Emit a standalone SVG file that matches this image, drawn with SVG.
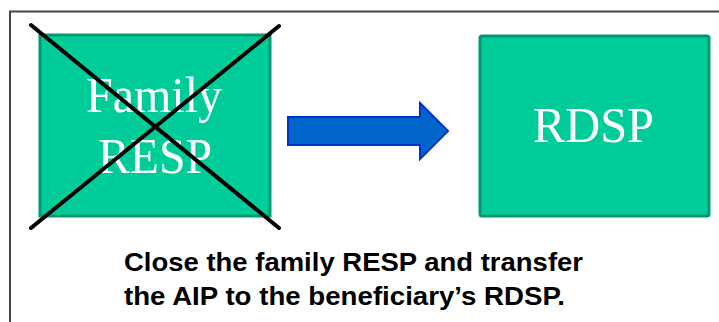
<svg xmlns="http://www.w3.org/2000/svg" width="719" height="322" viewBox="0 0 719 322">
<style>
.box{fill:#00CC99;stroke:#009A70;stroke-width:3}
.lbl{font-family:"Liberation Serif","Times New Roman",serif;fill:#fff;font-size:50px}
.cap{font-family:"Liberation Sans",Arial,sans-serif;font-weight:bold;font-size:26.5px;fill:#000}
.x{stroke:#000;stroke-width:4;stroke-linecap:round}
</style>
<rect x="0" y="0" width="719" height="322" fill="#fff"/>
<path d="M10,322 V11.5 H719" fill="none" stroke="#444" stroke-width="2"/>
<g id="family-resp">
<rect class="box" x="40" y="35" width="230" height="181"/>
<text class="lbl" x="86" y="112" textLength="136" lengthAdjust="spacingAndGlyphs">Family</text>
<text class="lbl" x="98" y="173" textLength="114" lengthAdjust="spacingAndGlyphs">RESP</text>
<line class="x" x1="31" y1="25" x2="279" y2="228"/>
<line class="x" x1="279" y1="26" x2="31" y2="228"/>
</g>
<g id="connectors">
<path d="M288,117 H420 V103 L448,131 L420,159 V145 H288 Z" fill="#0066CC" stroke="#0033CC" stroke-width="2"/>
</g>
<g id="rdsp">
<rect class="box" x="480" y="36" width="229" height="180" rx="2"/>
<text class="lbl" x="533" y="142" textLength="121" lengthAdjust="spacingAndGlyphs">RDSP</text>
</g>
<g id="caption">
<text class="cap" x="124" y="271" textLength="459" lengthAdjust="spacingAndGlyphs">Close the family RESP and transfer</text>
<text class="cap" x="124" y="305" textLength="441" lengthAdjust="spacingAndGlyphs">the AIP to the beneficiary’s RDSP.</text>
</g>
</svg>
